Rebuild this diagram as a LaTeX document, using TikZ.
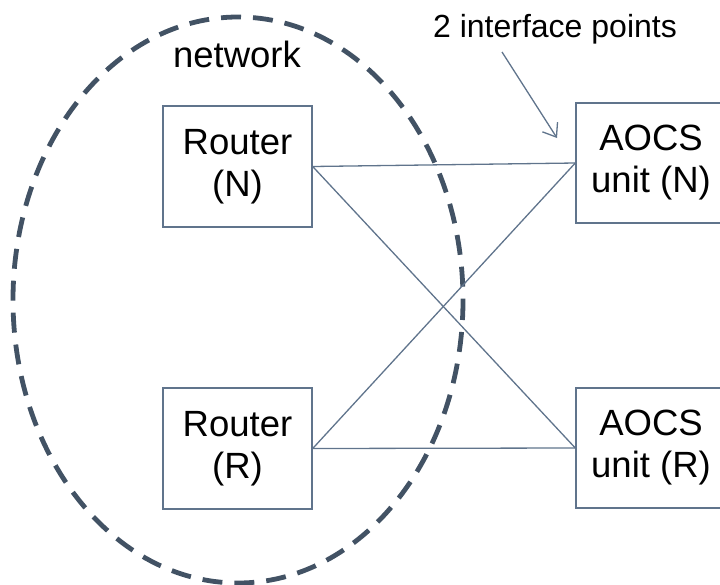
\documentclass[tikz,border=0pt]{standalone}
\usepackage{fontspec}
\setmainfont{Liberation Sans}
\usetikzlibrary{arrows.meta}
\definecolor{ringcol}{RGB}{66,82,100}
\definecolor{boxcol}{RGB}{96,116,140}
\tikzset{
  unitbox/.style={draw=boxcol, line width=1.4pt, fill=white, align=center,
    inner sep=0pt, font=\fontsize{36.5}{42}\selectfont},
  link/.style={draw=boxcol, line width=1.3pt},
  ring/.style={draw=ringcol, line width=4.8pt, dash pattern=on 20pt off 12pt},
  lbl/.style={inner sep=0pt, font=\fontsize{32}{36}\selectfont}
}
\begin{document}
\begin{tikzpicture}[x=1pt,y=-1pt]
\useasboundingbox (0,0) rectangle (720,584);
\clip (0,0) rectangle (720,584);
% dashed network boundary
\draw[ring] (238,300) ellipse [x radius=225, y radius=283];
\node[lbl, anchor=base, font=\fontsize{36.5}{40}\selectfont] (net) at (237,67) {network};
% boxes
\node[unitbox, minimum width=149pt, minimum height=121pt] (rn) at (237.5,166.5) {Router\\(N)};
\node[unitbox, minimum width=149pt, minimum height=121pt] (rr) at (237.5,448.5) {Router\\(R)};
\node[unitbox, minimum width=150pt, minimum height=120pt] (an) at (651,163) {AOCS\\unit (N)};
\node[unitbox, minimum width=150pt, minimum height=120pt] (ar) at (651,448) {AOCS\\unit (R)};
% links
\draw[link] (rn.east) -- (an.west);
\draw[link] (rn.east) -- (ar.west);
\draw[link] (rr.east) -- (an.west);
\draw[link] (rr.east) -- (ar.west);
% annotation
\node[lbl, anchor=base] (ip) at (555,37) {2 interface points};
\coordinate (tail) at (502,52);
\coordinate (tip) at (557,138);
\draw[link, -{Straight Barb[length=12pt,width=18pt]}] (tail) -- (tip);
\end{tikzpicture}
\end{document}
